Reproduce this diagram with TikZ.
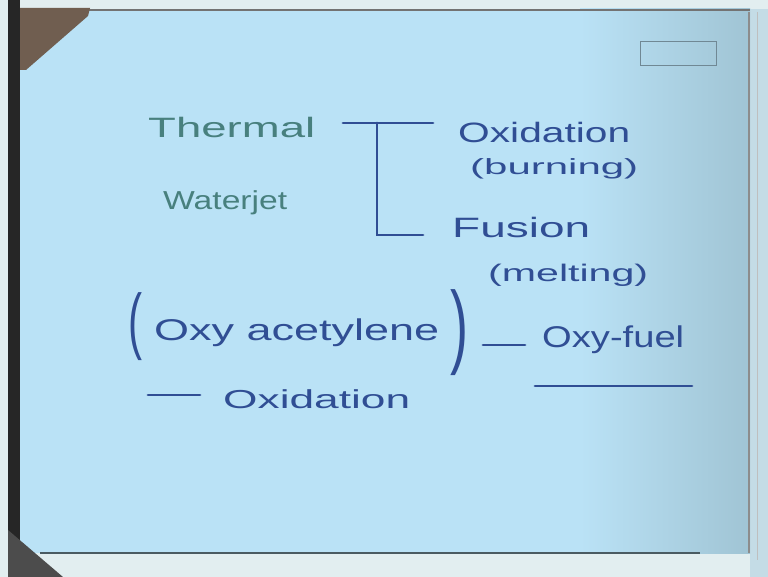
\documentclass[tikz,border=0pt]{standalone}
\usepackage{fontspec}
\setmainfont{Liberation Sans}
\usetikzlibrary{calc}
\definecolor{paper}{RGB}{186,226,246}
\definecolor{papershade}{RGB}{160,196,212}
\definecolor{inkblue}{RGB}{48,78,148}
\definecolor{inkgreen}{RGB}{72,128,126}
\definecolor{edgewhite}{RGB}{226,238,240}
\definecolor{rightedge}{RGB}{196,220,230}
\definecolor{hand}{RGB}{112,94,80}
\newcommand{\hwtext}[2]{\resizebox{#1}{\height}{#2}}
\newcommand{\hwparen}[3]{\resizebox*{#1}{#2}{#3}}
\tikzset{
  hw/.style={inner sep=0pt, anchor=base west, text=inkblue},
  hwgreen/.style={hw, text=inkgreen},
  pen/.style={draw=inkblue, line width=2.8pt, line cap=round},
  paren/.style={inner sep=0pt, anchor=center, text=inkblue},
}
\begin{document}
\begin{tikzpicture}[x=1pt,y=-1pt]
\useasboundingbox (0,0) rectangle (768,577);
% ---- photo background ----
\fill[edgewhite] (0,0) rectangle (768,577);
\fill[rightedge] (750,9) rectangle (768,577);
\fill[paper] (20,9) rectangle (750,553);
\shade[left color=paper, right color=papershade] (580,9) rectangle (750,553);
\fill[black!85] (8,0) rectangle (20,577);
\draw[black!55, line width=1.5pt] (20,10) -- (750,10);
\draw[black!45, line width=1.6pt] (749,12) -- (749,553);
\draw[black!25, line width=1pt] (757,12) -- (757,560);
\fill[hand] (20,8) -- (90,8) -- (88,16) -- (26,70) -- (20,70) -- cycle;
\draw[black!60!paper, line width=2.5pt] (40,553) -- (700,553);
\fill[black!70] (8,530) -- (63,577) -- (8,577) -- cycle;
% stamp box (text illegible)
\draw[black!40!paper, line width=1pt] (640,42) rectangle (716,66);
% ---- handwritten content ----
\node[hwgreen, font=\fontsize{28}{30}\selectfont] (thermal) at (148,138) {\hwtext{167pt}{Thermal}};
\node[hwgreen, font=\fontsize{26}{28}\selectfont] (waterjet) at (163,210) {\hwtext{124pt}{Waterjet}};
\node[hw, font=\fontsize{28}{30}\selectfont] (oxid1) at (458,143) {\hwtext{172pt}{Oxidation}};
\node[hw, font=\fontsize{22}{24}\selectfont] (burning) at (470,175) {\hwtext{168pt}{(burning)}};
\node[hw, font=\fontsize{28}{30}\selectfont] (fusion) at (452,238) {\hwtext{138pt}{Fusion}};
\node[hw, font=\fontsize{24}{26}\selectfont] (melting) at (488,282) {\hwtext{160pt}{(melting)}};
% bracket
\coordinate (bt1) at (343,123);
\coordinate (bt2) at (433,123);
\coordinate (bv1) at (377,123);
\coordinate (bv2) at (377,235);
\coordinate (bb2) at (423,235);
\draw[pen] (bt1) -- (bt2);
\draw[pen] (bv1) -- (bv2) -- (bb2);
% lower block
\node[paren, font=\fontsize{40}{40}\selectfont] (lp) at (135,327) {\hwparen{14pt}{68pt}{(}};
\node[hw, font=\fontsize{30}{32}\selectfont] (acet) at (154,340) {\hwtext{285pt}{Oxy acetylene}};
\node[paren, font=\fontsize{40}{40}\selectfont] (rp) at (459,333) {\hwparen{18pt}{86pt}{)}};
\node[hw, font=\fontsize{30}{32}\selectfont] (oxyfuel) at (542,347) {\hwtext{142pt}{Oxy-fuel}};
\node[hw, font=\fontsize{26}{28}\selectfont] (oxid2) at (223,408) {\hwtext{187pt}{Oxidation}};
\coordinate (d1a) at (483,345);
\coordinate (d1b) at (525,345);
\draw[pen] (d1a) -- (d1b);
\coordinate (ula) at (535,386);
\coordinate (ulb) at (692,386);
\draw[pen] (ula) -- (ulb);
\coordinate (d2a) at (148,395);
\coordinate (d2b) at (200,395);
\draw[pen] (d2a) -- (d2b);
\end{tikzpicture}
\end{document}
